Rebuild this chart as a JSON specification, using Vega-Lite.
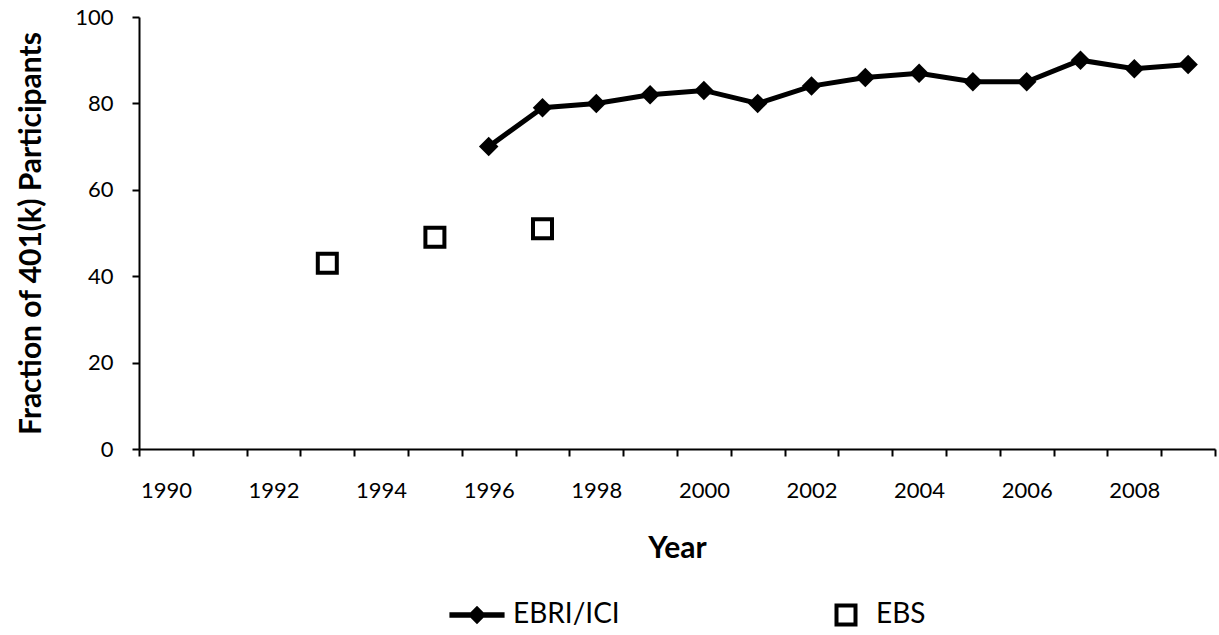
{
  "$schema": "https://vega.github.io/schema/vega-lite/v6.json",
  "width": 1076,
  "height": 432,
  "autosize": {"type": "none"},
  "padding": {"left": 139, "top": 17, "right": 4, "bottom": 186},
  "background": "white",
  "config": {
    "view": {"stroke": null},
    "font": "Lato",
    "axis": {"grid": false, "domainColor": "black", "tickColor": "black", "labelColor": "black", "titleColor": "black", "domainWidth": 2, "tickWidth": 2},
    "legend": {"labelColor": "black", "padding": 0}
  },
  "data": {
    "values": [
      {"year": 1996, "value": 70, "series": "EBRI/ICI"},
      {"year": 1997, "value": 79, "series": "EBRI/ICI"},
      {"year": 1998, "value": 80, "series": "EBRI/ICI"},
      {"year": 1999, "value": 82, "series": "EBRI/ICI"},
      {"year": 2000, "value": 83, "series": "EBRI/ICI"},
      {"year": 2001, "value": 80, "series": "EBRI/ICI"},
      {"year": 2002, "value": 84, "series": "EBRI/ICI"},
      {"year": 2003, "value": 86, "series": "EBRI/ICI"},
      {"year": 2004, "value": 87, "series": "EBRI/ICI"},
      {"year": 2005, "value": 85, "series": "EBRI/ICI"},
      {"year": 2006, "value": 85, "series": "EBRI/ICI"},
      {"year": 2007, "value": 90, "series": "EBRI/ICI"},
      {"year": 2008, "value": 88, "series": "EBRI/ICI"},
      {"year": 2009, "value": 89, "series": "EBRI/ICI"},
      {"year": 1993, "value": 43, "series": "EBS"},
      {"year": 1995, "value": 49, "series": "EBS"},
      {"year": 1997, "value": 51, "series": "EBS"}
    ]
  },
  "encoding": {
    "x": {
      "field": "year",
      "type": "ordinal",
      "bandPosition": 0.5,
      "scale": {"type": "band", "domain": [1990,1991,1992,1993,1994,1995,1996,1997,1998,1999,2000,2001,2002,2003,2004,2005,2006,2007,2008,2009], "paddingInner": 0, "paddingOuter": 0},
      "axis": {
        "tickBand": "extent",
        "tickSize": 7,
        "labelPadding": 24,
        "labelFontSize": 22,
        "labelAngle": 0,
        "labelExpr": "datum.value % 2 == 0 ? datum.label : ''",
        "title": "Year",
        "titleFontSize": 30,
        "titleFontWeight": "bold",
        "titleY": 108,
        "titleBaseline": "alphabetic"
      }
    },
    "y": {
      "field": "value",
      "type": "quantitative",
      "scale": {"domain": [0, 100], "nice": false},
      "axis": {
        "values": [0, 20, 40, 60, 80, 100],
        "tickSize": 7,
        "labelPadding": 19,
        "labelFontSize": 22,
        "title": "Fraction of 401(k) Participants",
        "titleFontSize": 30,
        "titleFontWeight": "bold",
        "titleX": -108,
        "titleY": 216,
        "titleAngle": -90,
        "titleAlign": "center",
        "titleBaseline": "middle"
      }
    }
  },
  "layer": [
    {
      "transform": [{"filter": "datum.series == 'EBRI/ICI'"}],
      "mark": {"type": "line", "color": "black", "strokeWidth": 5}
    },
    {
      "transform": [{"filter": "datum.series == 'EBRI/ICI'"}],
      "mark": {"type": "point", "shape": "diamond", "filled": true, "color": "black", "size": 380, "opacity": 1}
    },
    {
      "transform": [{"filter": "datum.series == 'EBRI/ICI'"}],
      "mark": {"type": "point", "filled": true, "color": "black", "size": 338, "opacity": 0},
      "encoding": {
        "shape": {
          "field": "series",
          "type": "nominal",
          "scale": {"range": ["M-3,-0.3L-0.7,-0.3L0,-1L0.7,-0.3L3,-0.3L3,0.3L0.7,0.3L0,1L-0.7,0.3L-3,0.3Z"]},
          "legend": {
            "orient": "none",
            "legendX": 324,
            "legendY": 584,
            "title": null,
            "labelFontSize": 28,
            "labelOffset": 22,
            "symbolSize": 338,
            "symbolOpacity": 1,
            "symbolFillColor": "black",
            "symbolStrokeWidth": 0
          }
        }
      }
    },
    {
      "transform": [{"filter": "datum.series == 'EBS'"}],
      "mark": {"type": "point", "filled": false, "color": "black", "strokeWidth": 4, "size": 361, "opacity": 1},
      "encoding": {
        "shape": {
          "field": "series",
          "type": "nominal",
          "scale": {"range": ["square"]},
          "legend": {
            "orient": "none",
            "legendX": 693,
            "legendY": 584,
            "title": null,
            "labelFontSize": 28,
            "labelOffset": 16,
            "symbolSize": 361,
            "symbolStrokeWidth": 4,
            "symbolStrokeColor": "black",
            "symbolOpacity": 1
          }
        }
      }
    }
  ],
  "resolve": {"scale": {"shape": "independent"}, "legend": {"shape": "independent"}}
}
